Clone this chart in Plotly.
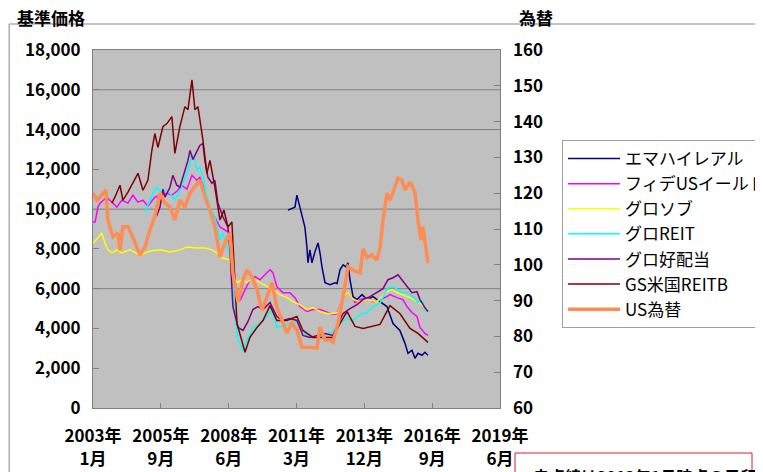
import plotly.graph_objects as go

# 基準価格 (左軸) と 為替 (右軸)
emahai_dates = ["2010-11-14", "2011-02-26", "2011-03-26", "2011-05-09", "2011-07-22", "2011-08-21", "2011-09-05",
                "2011-10-04", "2011-11-03", "2011-12-17", "2012-02-01", "2012-03-01", "2012-03-30", "2012-05-14",
                "2012-07-26", "2012-10-08", "2012-11-07", "2012-12-21", "2013-02-04", "2013-03-20", "2013-04-17",
                "2013-05-17", "2013-07-01", "2013-08-29", "2013-11-11", "2014-01-24", "2014-04-22", "2014-08-03",
                "2014-11-13", "2015-02-11", "2015-05-23", "2015-08-06", "2015-09-19", "2015-11-17", "2015-12-31",
                "2016-02-14", "2016-04-12", "2016-05-26", "2016-07-10"]
emahai = [9950, 10100, 10700, 10100, 9100, 8100, 7300, 7950, 7300, 7850, 8300, 7800, 7100, 6300, 6200, 6300,
          6250, 6950, 7200, 7100, 7300, 6450, 5600, 5450, 5700, 5450, 5600, 5350, 5100, 4250, 3900, 3250, 2750,
          2900, 2500, 2750, 2650, 2800, 2650]

fide_dates = ["2003-01-01", "2003-02-01", "2003-03-15", "2003-04-15", "2003-07-25", "2003-10-06", "2003-12-19",
              "2004-03-02", "2004-05-30", "2004-08-12", "2004-10-25", "2005-01-07", "2005-03-20", "2005-07-01",
              "2005-09-15", "2005-12-26", "2006-03-09", "2006-05-21", "2006-08-03", "2006-10-16", "2006-12-30",
              "2007-03-13", "2007-04-25", "2007-06-09", "2007-08-07", "2007-09-21", "2007-12-03", "2008-02-16",
              "2008-04-29", "2008-07-12", "2008-08-25", "2008-10-24", "2008-12-07", "2009-02-19", "2009-05-03",
              "2009-07-16", "2009-09-28", "2009-12-10", "2010-02-23", "2010-04-07", "2010-06-04", "2010-09-01",
              "2010-12-14", "2011-02-26", "2011-05-09", "2011-08-21", "2011-11-18", "2012-03-01", "2012-06-12",
              "2012-09-09", "2012-11-07", "2013-02-04", "2013-04-17", "2013-07-30", "2013-10-13", "2014-01-24",
              "2014-04-22", "2014-08-03", "2014-11-13", "2014-12-28", "2015-04-10", "2015-07-07", "2015-09-04",
              "2015-11-17", "2016-01-30", "2016-03-14", "2016-05-26", "2016-07-10"]
fide = [9350, 9350, 10100, 10300, 10600, 10350, 10100, 10450, 10300, 10700, 10350, 10450, 10150, 10600, 10700,
        10800, 10700, 10900, 11200, 11000, 11700, 11450, 11600, 11200, 10450, 9950, 9600, 9100, 8950, 8800, 7300,
        5800, 5400, 5950, 6450, 6600, 6450, 6700, 6950, 6800, 6100, 5800, 5800, 5550, 5100, 4850, 4950, 4950, 4800,
        4700, 4750, 5550, 5800, 5300, 5450, 5550, 5350, 5450, 5600, 5700, 5550, 5450, 5100, 4800, 4600, 4050, 3750,
        3650]

gurosobu_dates = ["2003-01-01", "2003-03-15", "2003-05-10", "2003-06-25", "2003-08-08", "2003-10-06", "2003-12-19",
                  "2004-03-02", "2004-06-28", "2004-11-24", "2005-04-19", "2005-09-15", "2006-02-09", "2006-07-05",
                  "2006-10-16", "2007-03-13", "2007-07-08", "2007-10-20", "2008-01-03", "2008-03-16", "2008-07-12",
                  "2008-08-25", "2008-10-24", "2009-01-06", "2009-03-20", "2009-06-16", "2009-09-28", "2010-01-09",
                  "2010-04-07", "2010-07-18", "2010-10-30", "2011-01-27", "2011-05-09", "2011-08-21", "2011-11-18",
                  "2012-03-01", "2012-06-12", "2012-09-09", "2012-11-22", "2013-02-04", "2013-04-17", "2013-07-01",
                  "2013-10-13", "2014-01-24", "2014-06-19", "2014-11-13", "2015-01-27", "2015-04-10", "2015-07-07",
                  "2015-10-19", "2016-01-30", "2016-04-12", "2016-07-10"]
gurosobu = [8300, 8550, 8800, 8300, 7950, 7800, 7950, 7800, 7950, 7700, 7900, 7950, 7850, 7950, 8100, 8050, 8050,
            7950, 7800, 7550, 7450, 6600, 6300, 6450, 6300, 6550, 6300, 6100, 5950, 5700, 5550, 5350, 5200, 4950,
            5050, 4850, 4750, 4750, 4800, 5550, 5800, 5450, 5350, 5450, 5350, 5850, 5950, 5800, 5700, 5550, 5350,
            5200, 4950]

gloreit_dates = ["2005-02-06", "2005-04-19", "2005-06-03", "2005-08-01", "2005-09-15", "2005-11-27", "2006-02-09",
                 "2006-04-22", "2006-07-05", "2006-09-17", "2006-11-01", "2006-12-30", "2007-02-12", "2007-03-13",
                 "2007-04-25", "2007-06-09", "2007-08-07", "2007-09-21", "2007-12-03", "2008-02-16", "2008-04-01",
                 "2008-05-28", "2008-08-10", "2008-09-10", "2008-11-08", "2009-01-21", "2009-04-04", "2009-06-16",
                 "2009-09-28", "2010-01-09", "2010-03-23", "2010-06-04", "2010-09-01", "2010-12-14", "2011-03-26",
                 "2011-06-23", "2011-11-18", "2012-04-14", "2012-09-09", "2012-12-21", "2013-04-04", "2013-07-01",
                 "2013-10-13", "2014-01-24", "2014-04-22", "2014-08-03", "2014-11-28", "2015-02-11", "2015-04-25",
                 "2015-07-07", "2015-09-19", "2015-12-01", "2016-02-14", "2016-04-12", "2016-06-10", "2016-07-10"]
gloreit = [9850, 10450, 10800, 11100, 10900, 10950, 10800, 10450, 10950, 11550, 11950, 12750, 12450, 11950, 12100,
           11600, 10600, 10100, 9600, 8450, 8800, 8100, 7450, 5200, 3400, 2900, 3550, 4050, 4250, 4600, 4950, 4050,
           4150, 4250, 4350, 3750, 3550, 3650, 3850, 4250, 4500, 4400, 4700, 4800, 5100, 5300, 6050, 6100, 5950,
           5800, 5800, 5600, 5300, 5400, 4850, 4950]

kouhaitou_dates = ["2005-07-01", "2005-08-01", "2005-09-15", "2005-10-28", "2005-11-27", "2006-02-09",
                   "2006-03-23", "2006-05-21", "2006-07-05", "2006-08-18", "2006-11-01", "2006-12-01",
                   "2007-01-14", "2007-03-13", "2007-04-25", "2007-06-09", "2007-07-08", "2007-08-22",
                   "2007-10-20", "2007-12-03", "2008-01-17", "2008-04-01", "2008-06-12", "2008-07-12",
                   "2008-08-25", "2008-11-08", "2009-01-21", "2009-04-04", "2009-06-16", "2009-08-29",
                   "2009-11-11", "2010-02-23", "2010-06-04", "2010-09-01", "2010-12-14", "2011-03-26",
                   "2011-06-23", "2011-10-04", "2012-01-16", "2012-05-14", "2012-09-09", "2012-11-22",
                   "2013-02-04", "2013-05-17", "2013-08-29", "2013-11-26", "2014-03-08", "2014-07-04",
                   "2014-09-16", "2014-11-28", "2015-02-11", "2015-04-25", "2015-06-22", "2015-09-04",
                   "2015-11-17", "2016-01-30", "2016-03-14", "2016-05-26", "2016-07-10"]
kouhaitou = [9800, 9700, 10100, 11000, 10600, 11100, 11700, 11200, 11100, 11600, 12450, 12950, 12500, 12900,
             13200, 13300, 12450, 11600, 11300, 11450, 10300, 9600, 9100, 7950, 5100, 4050, 3900, 4350, 4950, 5100,
             4950, 5300, 4600, 4400, 4500, 4400, 3650, 3550, 3650, 3750, 3650, 4250, 4750, 5000, 5200, 5450, 5600,
             5850, 6000, 6450, 6550, 6700, 6450, 6100, 5800, 5850, 5450, 5050, 4850]

gsreit_dates = ["2003-10-06", "2003-11-20", "2004-02-03", "2004-03-17", "2004-05-30", "2004-08-12", "2004-10-25",
                "2005-01-07", "2005-03-20", "2005-05-18", "2005-07-01", "2005-08-15", "2005-10-28", "2005-12-26",
                "2006-03-09", "2006-04-22", "2006-07-05", "2006-09-17", "2006-11-01", "2006-12-30", "2007-02-12",
                "2007-03-28", "2007-06-09", "2007-08-07", "2007-09-21", "2007-12-03", "2008-02-16", "2008-04-15",
                "2008-06-12", "2008-08-10", "2008-10-24", "2009-02-19", "2009-05-03", "2009-08-15", "2009-11-11",
                "2010-02-23", "2010-06-04", "2010-10-30", "2011-03-26", "2011-06-23", "2011-11-18", "2012-04-14",
                "2012-09-09", "2012-12-21", "2013-04-04", "2013-07-30", "2013-11-26", "2014-08-03", "2014-12-28",
                "2015-05-23", "2015-10-19", "2016-02-14", "2016-07-10"]
gsreit = [10300, 10600, 11200, 10450, 10850, 11350, 11800, 10950, 11450, 12950, 13800, 13100, 14150, 14300,
          14650, 12800, 14150, 15150, 15000, 16500, 15000, 15150, 13500, 11800, 12450, 11100, 9450, 9950, 9100,
          9350, 4250, 2800, 3550, 4050, 4400, 5150, 4400, 4400, 4600, 3900, 3550, 3550, 3550, 4250, 4850, 4100,
          4000, 4200, 5150, 4750, 4000, 3750, 3300]

usd_dates = ["2003-01-01", "2003-03-01", "2003-05-10", "2003-07-10", "2003-08-08", "2003-10-21", "2004-01-04",
             "2004-02-03", "2004-03-17", "2004-05-30", "2004-07-28", "2004-10-10", "2004-11-24", "2005-02-06",
             "2005-04-19", "2005-07-01", "2005-09-15", "2005-11-27", "2006-02-09", "2006-04-22", "2006-07-05",
             "2006-09-17", "2006-12-01", "2007-04-25", "2007-07-08", "2007-09-21", "2007-12-03", "2008-02-16",
             "2008-04-29", "2008-07-12", "2008-08-25", "2008-11-08", "2009-01-21", "2009-03-20", "2009-06-01",
             "2009-08-15", "2009-10-27", "2010-01-09", "2010-03-23", "2010-06-04", "2010-08-17", "2010-10-30",
             "2011-01-12", "2011-03-26", "2011-06-08", "2011-10-04", "2012-01-16", "2012-03-01", "2012-05-14",
             "2012-07-26", "2012-09-09", "2012-11-22", "2013-02-04", "2013-04-17", "2013-07-01", "2013-10-13",
             "2013-11-26", "2014-01-24", "2014-04-07", "2014-06-19", "2014-08-03", "2014-09-16", "2014-11-13",
             "2014-12-28", "2015-02-11", "2015-04-25", "2015-06-22", "2015-08-06", "2015-10-19", "2015-12-31",
             "2016-02-14", "2016-03-28", "2016-04-27", "2016-06-10", "2016-07-10"]
usd = [120.0, 118.1, 119.5, 120.9, 112.5, 107.8, 108.9, 104.0, 110.6, 110.6, 108.3, 105.0, 102.7, 105.0, 109.7,
       113.4, 120.0, 117.3, 116.1, 112.5, 118.1, 116.1, 120.0, 123.7, 119.0, 115.3, 110.6, 102.2, 106.1, 108.9,
       97.7, 89.6, 95.8, 98.5, 96.7, 93.0, 87.4, 91.0, 95.0, 88.2, 84.6, 81.0, 83.7, 81.8, 77.0, 77.0, 76.7, 82.6,
       79.0, 79.0, 78.4, 83.7, 91.0, 99.5, 98.5, 97.7, 104.5, 102.0, 102.7, 101.3, 104.7, 112.5, 120.0, 118.0,
       120.3, 124.2, 123.7, 120.9, 123.1, 120.3, 112.5, 106.9, 110.6, 104.1, 100.5]

x_tickvals = ["2003-01-01", "2005-09-28", "2008-06-24", "2011-03-21", "2013-12-15", "2016-09-10", "2019-06-07"]
x_ticktext = ["2003年<br>1月", "2005年<br>9月", "2008年<br>6月", "2011年<br>3月", "2013年<br>12月",
              "2016年<br>9月", "2019年<br>6月"]
grid_levels = [6000, 10000, 14000, 16000]

FONT = "Noto Sans CJK JP"

series = [
    ("エマハイレアル", emahai_dates, emahai, "#000080", 1.5, "y"),
    ("フィデUSイールド", fide_dates, fide, "#FF00FF", 1.5, "y"),
    ("グロソブ", gurosobu_dates, gurosobu, "#FFFF00", 1.5, "y"),
    ("グロREIT", gloreit_dates, gloreit, "#00FFFF", 1.5, "y"),
    ("グロ好配当", kouhaitou_dates, kouhaitou, "#800080", 1.5, "y"),
    ("GS米国REITB", gsreit_dates, gsreit, "#800000", 1.5, "y"),
    ("US為替", usd_dates, usd, "#FF8C50", 3.5, "y2"),
]

fig = go.Figure()
for name, d, v, color, width, axis in series:
    fig.add_trace(go.Scatter(x=d, y=v, name=name, mode="lines", yaxis=axis,
                             line=dict(color=color, width=width)))

for lv in grid_levels:
    fig.add_hline(y=lv, line_color="#808080", line_width=1, layer="below")

tickfont = dict(family=FONT, size=17, weight="bold")

# ページ本体の余白 (8px) を差し引いた大きさ
fig.update_layout(
    width=755, height=464,
    margin=dict(l=85, r=263, t=42, b=64, autoexpand=False),
    paper_bgcolor="white",
    plot_bgcolor="#C0C0C0",
    font=dict(family=FONT, color="black", size=17),
    showlegend=True,
    legend=dict(x=1.1523, y=0.7486, xanchor="left", yanchor="top",
                bgcolor="white", bordercolor="#A0A0A0", borderwidth=1,
                font=dict(family=FONT, size=17, color="black"), itemwidth=52,
                tracegroupgap=0),
    xaxis=dict(type="date", range=["2003-01-01", "2019-06-07"], tickvals=x_tickvals, ticktext=x_ticktext,
               ticks="inside", ticklen=5, tickcolor="#808080", showgrid=False, zeroline=False,
               showline=True, linecolor="#808080", mirror=True, ticklabelstandoff=13,
               tickfont=tickfont, automargin=False),
    yaxis=dict(range=[0, 18000], dtick=2000, tickformat=",", ticks="inside", ticklen=6, tickcolor="#808080",
               showgrid=False, zeroline=False, showline=True, linecolor="#808080", mirror=True,
               ticklabelstandoff=8, tickfont=tickfont, automargin=False),
    yaxis2=dict(range=[60, 160], dtick=10, overlaying="y", side="right", ticks="inside", ticklen=6,
                tickcolor="#808080", showgrid=False, zeroline=False, showline=False,
                ticklabelstandoff=12, tickfont=tickfont, automargin=False),
)

# 外枠と見出し
fig.add_shape(type="rect", xref="paper", yref="paper", x0=-0.206, x1=1.7, y0=-0.3, y1=1.0726,
              line=dict(color="#888888", width=1), fillcolor="rgba(0,0,0,0)", layer="below")
fig.add_annotation(text="<b>基準価格</b>", xref="paper", yref="paper", x=-0.1916, y=1.092,
                   xanchor="left", yanchor="middle", showarrow=False, font=dict(size=17))
fig.add_annotation(text="<b>為替</b>", xref="paper", yref="paper", x=1.0418, y=1.092,
                   xanchor="left", yanchor="middle", showarrow=False, font=dict(size=17))

# 注記 (下端で切れている)
fig.add_shape(type="rect", xref="paper", yref="paper", x0=1.0369, x1=1.6192, y0=-0.3, y1=-0.1257,
              line=dict(color="#E02020", width=1), fillcolor="white")
fig.add_annotation(text="<b>赤点線は2013年1月時点の目印</b>", xref="paper", yref="paper", x=1.075, y=-0.19,
                   xanchor="left", yanchor="middle", showarrow=False, font=dict(size=16))

fig.write_html("out.html")
